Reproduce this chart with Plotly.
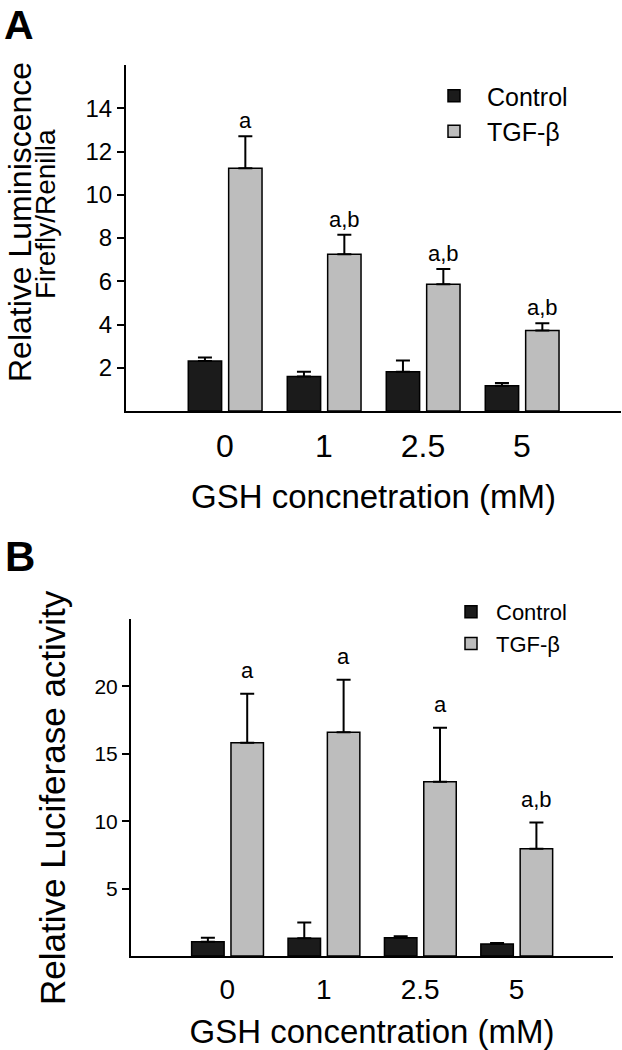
import plotly.graph_objects as go

W, H = 622, 1050

# ---- data ----
conc_labels = ["0", "1", "2.5", "5"]
positions = [1, 2, 3, 4]

a_control = [2.31, 1.59, 1.82, 1.17]
a_control_err = [0.16, 0.23, 0.51, 0.13]
a_tgf = [11.22, 7.25, 5.86, 3.72]
a_tgf_err = [1.48, 0.90, 0.71, 0.34]
a_letters = ["a", "a,b", "a,b", "a,b"]

b_control = [1.06, 1.31, 1.36, 0.89]
b_control_err = [0.30, 1.17, 0.10, 0.07]
b_tgf = [15.82, 16.59, 12.92, 7.95]
b_tgf_err = [3.64, 3.91, 4.01, 1.95]
b_letters = ["a", "a", "a", "a,b"]

a_ticks = [2, 4, 6, 8, 10, 12, 14]
b_ticks = [5, 10, 15, 20]

# ---- style ----
FONT = "Liberation Sans, Arial, Helvetica, sans-serif"
C_CTRL = "#1b1b1b"
C_TGF = "#bdbdbd"
BAR_W = 0.337
OFF_CTRL = -0.371
OFF_TGF = 0.037


def px_x(p):
    return p / W


def px_y(p):
    return 1 - p / H


def err(vals):
    return dict(type="data", array=vals, arrayminus=[0] * len(vals), symmetric=False,
                color="black", thickness=2, width=7)


fig = go.Figure()

for (ctrl, ctrl_e, tgf, tgf_e, xa, ya, lg) in [
    (a_control, a_control_err, a_tgf, a_tgf_err, "x", "y", "legend"),
    (b_control, b_control_err, b_tgf, b_tgf_err, "x2", "y2", "legend2"),
]:
    fig.add_trace(go.Bar(x=positions, y=ctrl, name="Control", width=BAR_W, offset=OFF_CTRL,
                         marker=dict(color=C_CTRL, line=dict(color="black", width=1.5)),
                         error_y=err(ctrl_e), xaxis=xa, yaxis=ya, legend=lg))
    fig.add_trace(go.Bar(x=positions, y=tgf, name="TGF-β", width=BAR_W, offset=OFF_TGF,
                         marker=dict(color=C_TGF, line=dict(color="black", width=1.5)),
                         error_y=err(tgf_e), xaxis=xa, yaxis=ya, legend=lg))

annotations = []
# significance letters
for tgf, tgf_e, letters, xr, yr, ysh in [
    (a_tgf, a_tgf_err, a_letters, "x", "y", 1),
    (b_tgf, b_tgf_err, b_letters, "x2", "y2", 9),
]:
    for p, v, e, t in zip(positions, tgf, tgf_e, letters):
        annotations.append(dict(x=p + OFF_TGF + BAR_W / 2, y=v + e, xref=xr, yref=yr, text=t,
                                showarrow=False, yanchor="bottom", yshift=ysh,
                                font=dict(size=22, color="black", family=FONT)))

# panel labels
annotations.append(dict(x=px_x(2), y=1, xref="paper", yref="paper", text="<b>A</b>",
                        xanchor="left", yanchor="top", showarrow=False,
                        font=dict(size=41, color="black", family=FONT)))
annotations.append(dict(x=px_x(3), y=px_y(531), xref="paper", yref="paper", text="<b>B</b>",
                        xanchor="left", yanchor="top", showarrow=False,
                        font=dict(size=42, color="black", family=FONT)))

# y titles
annotations.append(dict(x=0, y=px_y(222), xref="paper", yref="paper",
                        text="Relative Luminiscence", textangle=-90, showarrow=False,
                        xanchor="left", yanchor="middle",
                        font=dict(size=32, color="black", family=FONT)))
annotations.append(dict(x=px_x(46), y=px_y(214), xref="paper", yref="paper",
                        text="Firefly/Renilla", textangle=-90, showarrow=False,
                        xanchor="center", yanchor="middle",
                        font=dict(size=28, color="black", family=FONT)))
annotations.append(dict(x=px_x(52), y=px_y(798), xref="paper", yref="paper",
                        text="Relative Luciferase activity", textangle=-90, showarrow=False,
                        xanchor="center", yanchor="middle",
                        font=dict(size=35, color="black", family=FONT)))

fig.update_layout(
    width=W, height=H,
    margin=dict(l=0, r=0, t=0, b=0),
    paper_bgcolor="white", plot_bgcolor="white",
    barmode="overlay",
    font=dict(family=FONT, color="black"),
    annotations=annotations,
    xaxis=dict(domain=[px_x(126), px_x(621)], range=[0, 5], anchor="y",
               showline=True, linewidth=2, linecolor="black", showgrid=False, zeroline=False,
               tickvals=positions, ticktext=conc_labels, ticks="outside", ticklen=6,
               tickcolor="rgba(0,0,0,0)", tickfont=dict(size=32, family=FONT),
               title=dict(text="GSH concnetration (mM)", font=dict(size=33, family=FONT), standoff=21)),
    yaxis=dict(domain=[px_y(411), px_y(65)], range=[0, 16], anchor="x",
               showline=True, linewidth=2, linecolor="black", showgrid=False, zeroline=False,
               tickvals=a_ticks, ticks="outside", ticklen=7, tickwidth=1.5, tickcolor="black",
               tickfont=dict(size=24, family=FONT)),
    xaxis2=dict(domain=[px_x(131), px_x(613)], range=[0, 5], anchor="y2",
                showline=True, linewidth=2, linecolor="black", showgrid=False, zeroline=False,
                tickvals=positions, ticktext=conc_labels, ticks="outside", ticklen=7,
                tickcolor="rgba(0,0,0,0)", tickfont=dict(size=28, family=FONT),
                title=dict(text="GSH concentration (mM)", font=dict(size=33, family=FONT), standoff=21)),
    yaxis2=dict(domain=[px_y(956), px_y(619)], range=[0, 25], anchor="x2",
                showline=True, linewidth=2, linecolor="black", showgrid=False, zeroline=False,
                tickvals=b_ticks, ticks="outside", ticklen=7, tickwidth=1.5, tickcolor="black",
                tickfont=dict(size=21, family=FONT)),
    legend=dict(x=px_x(421), y=px_y(73), xanchor="left", yanchor="top", itemwidth=56,
                bgcolor="rgba(0,0,0,0)", font=dict(size=25, family=FONT), tracegroupgap=0),
    legend2=dict(x=px_x(446), y=px_y(591), xanchor="left", yanchor="top", itemwidth=40,
                 bgcolor="rgba(0,0,0,0)", font=dict(size=22, family=FONT), tracegroupgap=0),
)

fig.write_html("out.html", config={"displayModeBar": False},
               post_script="document.body.style.margin='0';")
